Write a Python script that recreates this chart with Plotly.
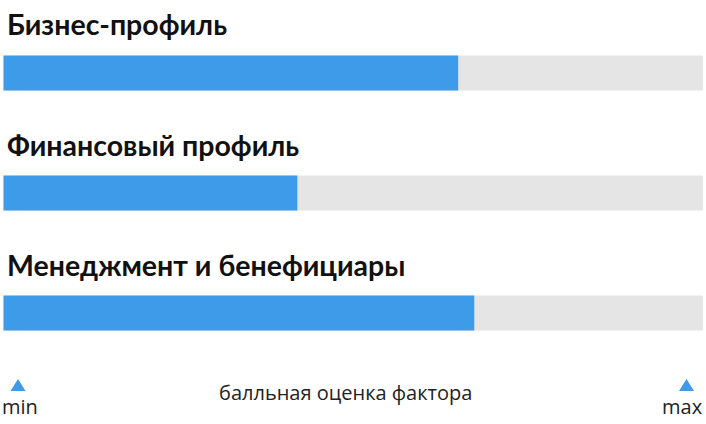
import plotly.graph_objects as go

# factor scores, 0..100 scale
factors = ["Бизнес-профиль", "Финансовый профиль", "Менеджмент и бенефициары"]
scores = [65, 42, 67.3]
score_max = [100, 100, 100]
scale_labels = ["min", "max"]
axis_caption = "балльная оценка фактора"

W, H = 706, 424
BLUE = "#3d9be9"
GREY = "#e5e5e5"

# vertical layout in pixels (y axis runs in px, top = 0)
bar_rows = [73, 193, 313]
title_rows = [24, 145, 265]
bar_px = 35

fig = go.Figure()
fig.add_trace(go.Bar(x=score_max, y=bar_rows, orientation="h", width=bar_px,
                     marker=dict(color=GREY, line=dict(width=0)), hoverinfo="skip"))
fig.add_trace(go.Bar(x=scores, y=bar_rows, orientation="h", width=bar_px,
                     marker=dict(color=BLUE, line=dict(width=0)),
                     hovertext=factors, hoverinfo="text+x"))

for name, yy in zip(factors, title_rows):
    fig.add_annotation(text=name, x=0, xref="paper", xanchor="left", xshift=5,
                       y=yy, yref="y", yanchor="middle", showarrow=False,
                       font=dict(family="Lato", size=28.5, color="#111111", weight=700))

# min / max markers under the scale: small triangles drawn as pixel-sized shapes
for lab, xp, anch in zip(scale_labels, [0, 1], ["left", "right"]):
    cx = 18 if xp == 0 else -19.5
    fig.add_shape(type="path", xref="paper", yref="paper",
                  xsizemode="pixel", ysizemode="pixel",
                  xanchor=xp, yanchor=(H - 391) / H,
                  path=f"M {cx - 7.5},0 L {cx + 7.5},0 L {cx},12 Z",
                  fillcolor=BLUE, line=dict(width=0))
    fig.add_annotation(text=lab, x=xp, xref="paper", xanchor=anch,
                       xshift=0 if xp == 0 else -1, y=406, yref="y",
                       yanchor="middle", showarrow=False,
                       font=dict(family="Open Sans", size=20, color="#222222"))

fig.add_annotation(text=axis_caption, x=0.49, xref="paper", xanchor="center",
                   y=392, yref="y", yanchor="middle", showarrow=False,
                   font=dict(family="Open Sans", size=20, color="#222222"))

fig.update_layout(
    width=W, height=H, barmode="overlay", showlegend=False,
    margin=dict(l=0, r=0, t=0, b=0),
    paper_bgcolor="white", plot_bgcolor="white",
    xaxis=dict(range=[-0.5, 100.43], visible=False, fixedrange=True),
    yaxis=dict(range=[H, 0], visible=False, fixedrange=True),
)

# drop the default page margin so the figure sits at the window corner
fig.write_html("out.html", config={"displayModeBar": False},
               post_script="document.body.style.margin='0';"
                           "document.body.style.overflow='hidden';")
